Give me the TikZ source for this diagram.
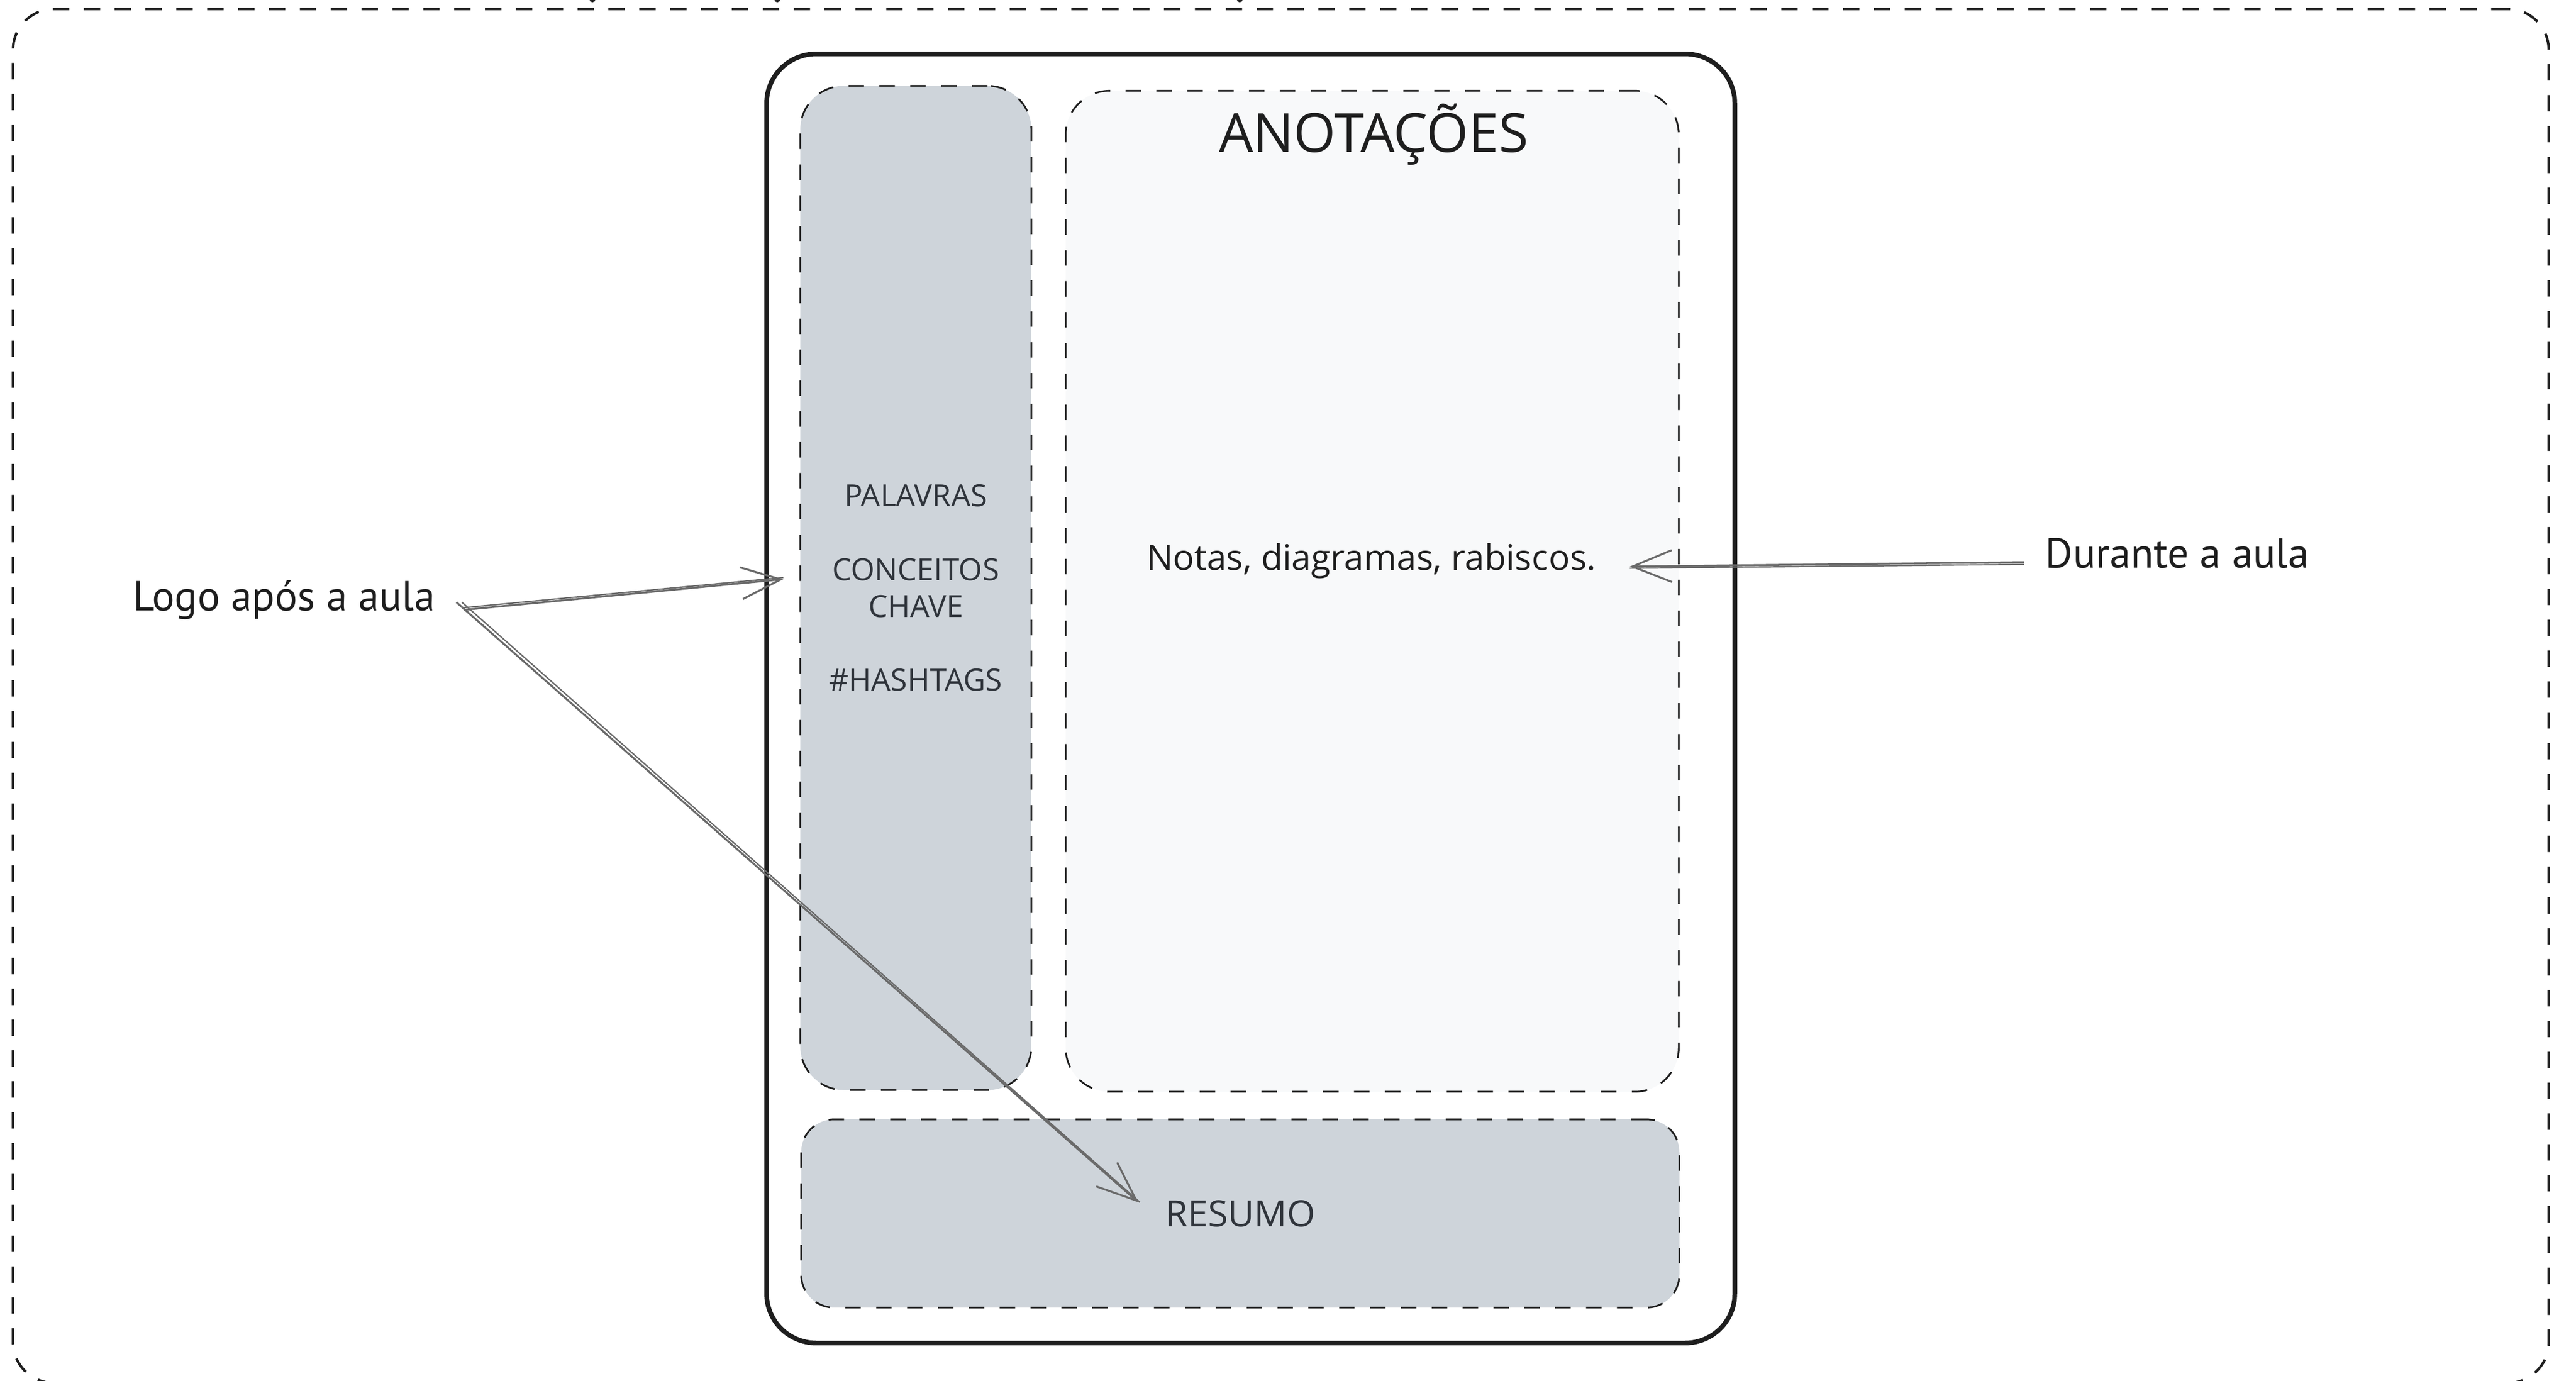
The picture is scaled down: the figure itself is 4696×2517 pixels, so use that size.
\documentclass[tikz,border=0pt]{standalone}
\usepackage{fontspec}
\setmainfont{Open Sans}
\newfontfamily\handfont{PT Sans}
\usetikzlibrary{arrows.meta}
\definecolor{ink}{HTML}{1E1E1E}
\definecolor{slate}{HTML}{2F343B}
\definecolor{colgray}{HTML}{CED4DA}
\definecolor{notebg}{HTML}{F8F9FA}
\definecolor{arrgray}{HTML}{6A6A6A}
\tikzset{
  outerdash/.style={draw=ink, line width=1.3pt, dash pattern=on 8.5pt off 7.5pt, rounded corners=0.75cm, inner sep=0pt},
  framebox/.style={draw=ink, line width=2.4pt, rounded corners=0.9cm, inner sep=0pt},
  zonebox/.style={draw=ink, line width=0.9pt, dash pattern=on 8pt off 8pt, rounded corners=0.8cm, inner sep=0pt},
  handtxt/.style={font=\handfont\fontsize{21.8}{26}\selectfont, text=ink, inner sep=0pt, anchor=base},
  arr/.style={draw=arrgray, line width=1pt, -{Straight Barb[length=7.2mm, width=5.8mm, line width=1pt]}},
  arrghost/.style={draw=arrgray, line width=0.7pt},
}
\begin{document}
\begin{tikzpicture}[x=0.01cm, y=-0.01cm]
\useasboundingbox (0,0) rectangle (4696,2517);
\clip (0,0) rectangle (4696,2517);
% clipped descenders of a title above the picture
\fill[ink] (1080,0) ellipse (0.05cm and 0.04cm);
\fill[ink] (1417,0) ellipse (0.05cm and 0.04cm);
\fill[ink] (2260,0) ellipse (0.05cm and 0.04cm);
% outer dashed frame
\node[outerdash, minimum width=46.20cm, minimum height=25.04cm] (outer) at (2335,1269) {};
% page frame
\node[framebox, minimum width=17.64cm, minimum height=23.49cm] (page) at (2280,1273.5) {};
% keyword column
\node[zonebox, fill=colgray, minimum width=4.21cm, minimum height=18.30cm, align=center,
      text=slate, font=\fontsize{15.8}{19.1}\selectfont] (kw) at (1669.5,1072)
  {PALAVRAS\\[19.1pt]CONCEITOS\\CHAVE\\[19.1pt]\#HASHTAGS};
% notes area
\node[zonebox, fill=notebg, minimum width=11.17cm, minimum height=18.24cm] (notes) at (2501.5,1078) {};
\node[anchor=base, inner sep=0pt, text=ink, font=\fontsize{28}{32}\selectfont] (title) at (2504,277) {ANOTAÇÕES};
\node[anchor=base, inner sep=0pt, text=ink, font=\fontsize{18.3}{22}\selectfont] (notetxt) at (2500,1039) {Notas, diagramas, rabiscos.};
% summary
\node[zonebox, fill=colgray, rounded corners=0.6cm, minimum width=16.00cm, minimum height=3.43cm,
      text=slate, font=\fontsize{18.8}{22}\selectfont] (resumo) at (2261,2212.5) {RESUMO};
% side labels
\node[handtxt] (logo) at (518,1113) {Logo após a aula};
\node[handtxt] (durante) at (3969,1035) {Durante a aula};
% connector ends
\coordinate (s1) at (845,1112);
\coordinate (s2) at (832,1098);
\coordinate (s3) at (3690,1025);
\coordinate (t1) at (1428,1056);
\coordinate (t2) at (2075,2192);
\coordinate (t3) at (2971,1033);
% arrows
\draw[arr] (s1) -- (t1);
\draw[arrghost] ([yshift=0.04cm]s1) -- ([yshift=0.03cm]t1);
\draw[arr] (s2) -- (t2);
\draw[arrghost] ([xshift=0.1cm]s2) -- ([xshift=0.03cm]t2);
\draw[arr] (s3) -- (t3);
\draw[arrghost] ([yshift=-0.04cm]s3) -- ([yshift=-0.03cm]t3);
\end{tikzpicture}
\end{document}
